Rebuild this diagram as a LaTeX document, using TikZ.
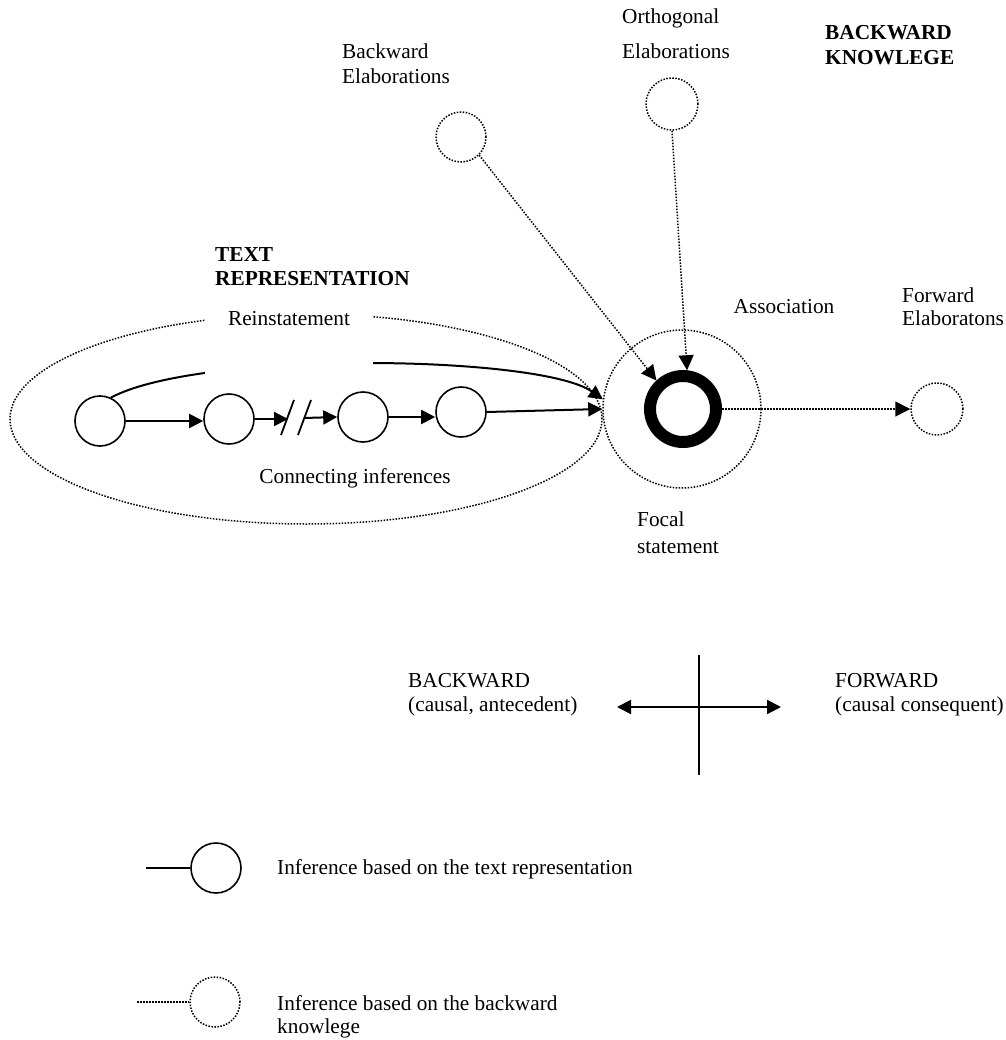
\documentclass[tikz,border=0pt]{standalone}
\usepackage{fontspec}
\setmainfont{Liberation Serif}
\usetikzlibrary{arrows.meta,shapes.geometric}
\begin{document}
\begin{tikzpicture}[x=1pt,y=-1pt,
  every node/.style={font=\fontsize{21.3}{24.5}\selectfont, inner sep=0pt},
  solidc/.style={circle, draw, line width=1.6pt, minimum size=50pt},
  dotline/.style={line width=1.5pt, dash pattern=on 1.5pt off 1.5pt},
  dotc/.style={circle, draw, dotline, minimum size=52pt},
  tip/.style={-{Triangle[length=14pt,width=14pt]}},
  arr/.style={line width=2pt, tip},
  dotarr/.style={dotline, -{Triangle[length=15pt,width=15pt]}},
  lbl/.style={anchor=base west},
  boldlbl/.style={anchor=base west, font=\fontsize{21.3}{24.5}\selectfont\bfseries}]
\useasboundingbox (0,0) rectangle (1005,1040);

% text representation ellipse
\node[ellipse, draw, dotline, minimum width=592pt, minimum height=210pt] (textrep) at (306,419) {};

% chain circles
\node[solidc] (c1) at (100,421) {};
\node[solidc] (c2) at (229,419) {};
\node[solidc] (c3) at (363,417) {};
\node[solidc] (c4) at (461,412) {};

% association and focal
\node[circle, draw, dotline, minimum size=158pt] (assoc) at (682,409) {};
\node[circle, draw, line width=12pt, minimum size=66pt] (focal) at (683,409) {};

% reinstatement curve
\draw[arr] (c1.65) .. controls (200,350) and (540,355) .. (assoc.173);

% cover box and reinstatement label
\node[fill=white, minimum width=168pt, minimum height=74pt] (reinbox) at (289,339) {};
\node[anchor=base] (rein) at (289,325) {Reinstatement};

% chain arrows
\coordinate (brkL) at (288,419);
\coordinate (brkR) at (304,418);
\draw[arr] (c1.east) -- (c1.east -| c2.west);
\draw[arr] (c2.east) -- (brkL);
\draw[line width=1.8pt] (281,435) -- (294,400);
\draw[line width=1.8pt] (298,435) -- (311,400);
\draw[arr] (brkR) -- (c3.west);
\draw[arr] (c3.east) -- (c3.east -| c4.west);
\draw[arr] (c4.east) -- (assoc.west);

\node[anchor=base] (conn) at (355,483) {Connecting inferences};
\node[boldlbl] (trep1) at (215,262) {TEXT};
\node[boldlbl] (trep2) at (215,285) {REPRESENTATION};

% backward knowledge elaborations
\node[dotc, minimum size=50pt] (belab) at (461,137) {};
\node[dotc] (ortho) at (672,104) {};
\node[dotc] (fwd) at (937,409) {};
\draw[dotarr] (belab.-45) -- (focal.133);
\draw[dotarr] (ortho.south) -- (focal.84);
\draw[dotarr] (focal.east) -- (fwd.west);

\node[lbl] (bl1) at (342,59) {Backward};
\node[lbl] (bl2) at (342,84) {Elaborations};
\node[lbl] (ol1) at (622,24) {Orthogonal};
\node[lbl] (ol2) at (622,59) {Elaborations};
\node[boldlbl] (bk1) at (825,40) {BACKWARD};
\node[boldlbl] (bk2) at (825,65) {KNOWLEGE};
\node[anchor=base] (assocl) at (784,313) {Association};
\node[lbl] (fl1) at (902,302) {Forward};
\node[lbl] (fl2) at (902,325) {Elaboratons};
\node[lbl] (foc1) at (637,526) {Focal};
\node[lbl] (foc2) at (637,553) {statement};

% direction cross
\coordinate (vtop) at (699,655);
\coordinate (vbot) at (699,775);
\coordinate (hl) at (617,707);
\coordinate (hr) at (781,707);
\draw[line width=1.6pt] (vtop) -- (vbot);
\draw[line width=2pt, {Triangle[length=14pt,width=14pt]}-{Triangle[length=14pt,width=14pt]}] (hl) -- (hr);
\node[lbl] (bw1) at (408,687) {BACKWARD};
\node[lbl] (bw2) at (408,711) {(causal, antecedent)};
\node[lbl] (fw1) at (835,687) {FORWARD};
\node[lbl] (fw2) at (835,711) {(causal consequent)};

% legend
\node[solidc] (leg1) at (216,868) {};
\coordinate (leg1s) at (146,868);
\draw[line width=1.6pt] (leg1s) -- (leg1.west);
\node[lbl] (leg1t) at (277,874) {Inference based on the text representation};
\node[dotc, minimum size=50pt] (leg2) at (215,1002) {};
\coordinate (leg2s) at (137,1002);
\draw[dotline] (leg2s) -- (leg2.west);
\node[lbl] (leg2t) at (277,1010) {Inference based on the backward};
\node[lbl] (leg2u) at (277,1033) {knowlege};
\end{tikzpicture}
\end{document}
